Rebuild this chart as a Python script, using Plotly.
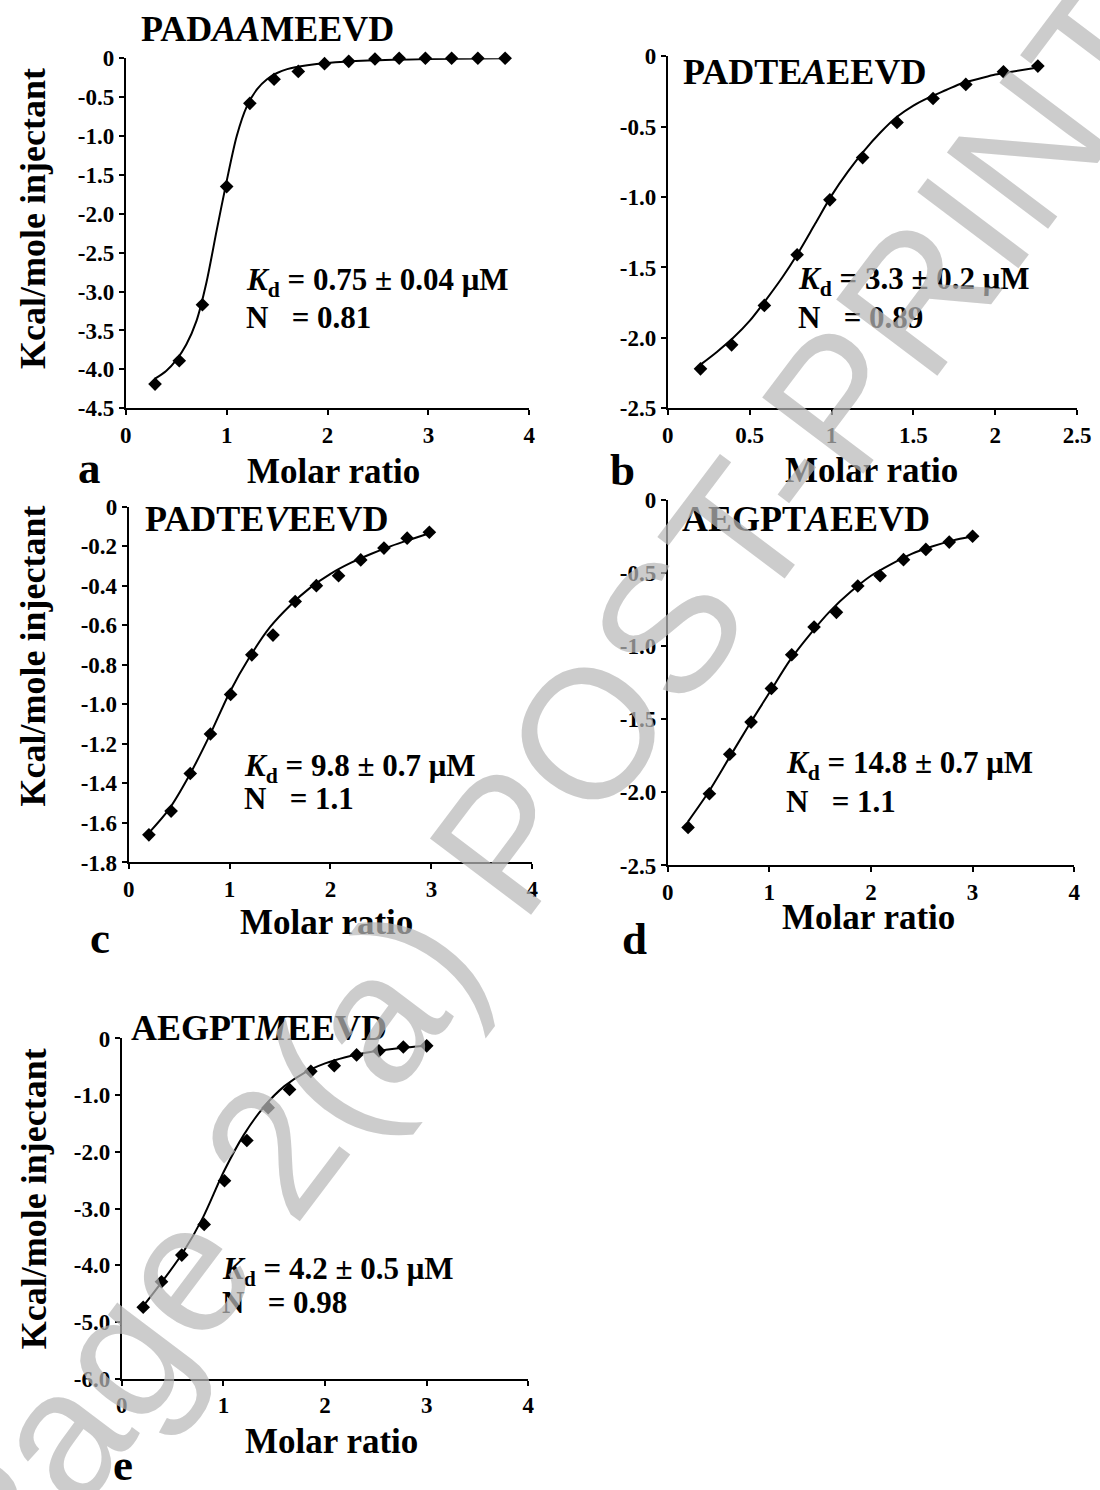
import plotly.graph_objects as go

W, H = 1100, 1490

# ---------------- data ----------------
# Panel a  PADAAMEEVD
a_x = [0.29, 0.53, 0.76, 1.0, 1.23, 1.47, 1.71, 1.97, 2.21, 2.47, 2.71, 2.97, 3.23, 3.49, 3.76]
a_y = [-4.19, -3.89, -3.17, -1.65, -0.58, -0.27, -0.17, -0.07, -0.04, -0.01, 0.0, 0.0, 0.0, 0.0, 0.0]
a_fit_x = [0.29, 0.4, 0.5, 0.6, 0.7, 0.8, 0.9, 1.0, 1.1, 1.2, 1.3, 1.4, 1.5, 1.6, 1.8, 2.0, 2.4, 3.0, 3.76]
a_fit_y = [-4.12, -4.02, -3.88, -3.68, -3.38, -2.88, -2.22, -1.58, -1.0, -0.62, -0.4, -0.27, -0.19, -0.14, -0.09, -0.06, -0.03, -0.01, 0.0]

# Panel b  PADTEAEEVD
b_x = [0.2, 0.39, 0.59, 0.79, 0.99, 1.19, 1.4, 1.62, 1.82, 2.05, 2.26]
b_y = [-2.22, -2.05, -1.77, -1.41, -1.02, -0.72, -0.47, -0.3, -0.2, -0.11, -0.07]
b_fit_x = [0.2, 0.3, 0.4, 0.5, 0.6, 0.7, 0.8, 0.9, 1.0, 1.1, 1.2, 1.3, 1.4, 1.5, 1.6, 1.7, 1.8, 1.9, 2.0, 2.1, 2.26]
b_fit_y = [-2.19, -2.1, -2.0, -1.88, -1.73, -1.57, -1.39, -1.19, -0.99, -0.82, -0.67, -0.54, -0.43, -0.35, -0.29, -0.24, -0.19, -0.16, -0.13, -0.11, -0.08]

# Panel c  PADTEVEEVD
c_x = [0.2, 0.42, 0.61, 0.81, 1.01, 1.22, 1.43, 1.65, 1.86, 2.08, 2.3, 2.53, 2.76, 2.98]
c_y = [-1.66, -1.54, -1.35, -1.15, -0.95, -0.75, -0.65, -0.48, -0.4, -0.35, -0.27, -0.21, -0.16, -0.13]
c_fit_x = [0.2, 0.4, 0.6, 0.8, 1.0, 1.2, 1.4, 1.6, 1.8, 2.0, 2.2, 2.4, 2.6, 2.8, 2.98]
c_fit_y = [-1.65, -1.53, -1.36, -1.16, -0.94, -0.76, -0.61, -0.5, -0.41, -0.34, -0.285, -0.24, -0.2, -0.165, -0.135]

# Panel d  AEGPTAEEVD
d_x = [0.2, 0.41, 0.61, 0.82, 1.02, 1.22, 1.44, 1.66, 1.87, 2.09, 2.32, 2.54, 2.77, 3.0]
d_y = [-2.24, -2.01, -1.74, -1.52, -1.29, -1.06, -0.87, -0.77, -0.59, -0.52, -0.41, -0.34, -0.29, -0.25]
d_fit_x = [0.2, 0.4, 0.6, 0.8, 1.0, 1.2, 1.4, 1.6, 1.8, 2.0, 2.2, 2.4, 2.6, 2.8, 3.0]
d_fit_y = [-2.2, -2.0, -1.77, -1.54, -1.32, -1.1, -0.92, -0.76, -0.63, -0.52, -0.44, -0.37, -0.32, -0.28, -0.25]

# Panel e  AEGPTMEEVD
e_x = [0.21, 0.39, 0.59, 0.81, 1.01, 1.23, 1.44, 1.65, 1.86, 2.09, 2.31, 2.53, 2.77, 3.0]
e_y = [-4.74, -4.29, -3.82, -3.28, -2.51, -1.8, -1.22, -0.9, -0.58, -0.48, -0.29, -0.22, -0.15, -0.13]
e_fit_x = [0.21, 0.4, 0.6, 0.8, 1.0, 1.2, 1.4, 1.6, 1.8, 2.0, 2.2, 2.4, 2.6, 2.8, 3.0]
e_fit_y = [-4.72, -4.28, -3.78, -3.15, -2.36, -1.7, -1.2, -0.84, -0.6, -0.44, -0.33, -0.25, -0.2, -0.16, -0.13]

# tick values / labels
x_ticks_4 = [0, 1, 2, 3, 4]
x_text_4 = ["0", "1", "2", "3", "4"]
x_ticks_b = [0, 0.5, 1, 1.5, 2, 2.5]
x_text_b = ["0", "0.5", "1", "1.5", "2", "2.5"]
a_yticks = [0, -0.5, -1.0, -1.5, -2.0, -2.5, -3.0, -3.5, -4.0, -4.5]
a_ytext = ["0", "-0.5", "-1.0", "-1.5", "-2.0", "-2.5", "-3.0", "-3.5", "-4.0", "-4.5"]
b_yticks = [0, -0.5, -1.0, -1.5, -2.0, -2.5]
b_ytext = ["0", "-0.5", "-1.0", "-1.5", "-2.0", "-2.5"]
c_yticks = [0, -0.2, -0.4, -0.6, -0.8, -1.0, -1.2, -1.4, -1.6, -1.8]
c_ytext = ["0", "-0.2", "-0.4", "-0.6", "-0.8", "-1.0", "-1.2", "-1.4", "-1.6", "-1.8"]
e_yticks = [0, -1.0, -2.0, -3.0, -4.0, -5.0, -6.0]
e_ytext = ["0", "-1.0", "-2.0", "-3.0", "-4.0", "-5.0", "-6.0"]

titles = ["PAD<i>AA</i>MEEVD", "PADTE<i>A</i>EEVD", "PADTE<i>V</i>EEVD", "AEGPT<i>A</i>EEVD", "AEGPT<i>M</i>EEVD"]
kd_texts = ["0.75 ± 0.04 μM", "3.3 ± 0.2 μM", "9.8 ± 0.7 μM", "14.8 ± 0.7 μM", "4.2 ± 0.5 μM"]
n_texts = ["0.81", "0.89", "1.1", "1.1", "0.98"]
letters = ["a", "b", "c", "d", "e"]

# ---------------- layout helpers ----------------
SERIF = "Liberation Serif"

def px(x):
    return x / W

def py(y):
    return 1 - y / H

# panel boxes in pixels: left, right, top, bottom
boxes = [
    (122, 533, 47, 403),
    (674, 1091, 45, 403),
    (125, 536, 503, 865),
    (674, 1088, 496, 868),
    (118, 532, 1044, 1390),
]
xranges = [[0, 4], [0, 2.5], [0, 4], [0, 4], [0, 4]]
yranges = [[-4.5, 0], [-2.5, 0], [-1.8, 0], [-2.5, 0], [-6.0, 0]]
xtv = [x_ticks_4, x_ticks_b, x_ticks_4, x_ticks_4, x_ticks_4]
xtt = [x_text_4, x_text_b, x_text_4, x_text_4, x_text_4]
ytv = [a_yticks, b_yticks, c_yticks, b_yticks, e_yticks]
ytt = [a_ytext, b_ytext, c_ytext, b_ytext, e_ytext]
data = [
    (a_x, a_y, a_fit_x, a_fit_y),
    (b_x, b_y, b_fit_x, b_fit_y),
    (c_x, c_y, c_fit_x, c_fit_y),
    (d_x, d_y, d_fit_x, d_fit_y),
    (e_x, e_y, e_fit_x, e_fit_y),
]

fig = go.Figure()
layout = dict(
    width=W, height=H, autosize=False,
    margin=dict(l=0, r=0, t=0, b=0),
    paper_bgcolor="white", plot_bgcolor="white",
    showlegend=False,
)

for i, (box, (xs, ys, fx, fy)) in enumerate(zip(boxes, data)):
    n = i + 1
    xa = "x" if n == 1 else f"x{n}"
    ya = "y" if n == 1 else f"y{n}"
    fig.add_trace(go.Scatter(x=fx, y=fy, mode="lines", line=dict(color="black", width=2, shape="spline", smoothing=0.8),
                             xaxis=xa, yaxis=ya, cliponaxis=False, hoverinfo="skip"))
    fig.add_trace(go.Scatter(x=xs, y=ys, mode="markers", marker=dict(symbol="diamond", size=10.5, color="black"),
                             xaxis=xa, yaxis=ya, cliponaxis=False))
    l, r, t, b = box
    common = dict(showline=True, linecolor="black", linewidth=2, ticks="outside", ticklen=5, tickwidth=2,
                  tickcolor="black", showgrid=False, zeroline=False,
                  tickfont=dict(family=SERIF, size=23, color="black", weight="bold"), fixedrange=True)
    layout["xaxis" if n == 1 else f"xaxis{n}"] = dict(
        domain=[px(l), px(r)], range=xranges[i], anchor=ya, tickmode="array",
        tickvals=xtv[i], ticktext=xtt[i], **common)
    layout["yaxis" if n == 1 else f"yaxis{n}"] = dict(
        domain=[py(b), py(t)], range=yranges[i], anchor=xa, tickmode="array",
        tickvals=ytv[i], ticktext=ytt[i], **common)

fig.update_layout(**layout)

ann = []

def txt(x, y, s, size, xanchor="center", yanchor="middle", angle=0):
    ann.append(dict(x=px(x), y=py(y), xref="paper", yref="paper", text=s, showarrow=False,
                    xanchor=xanchor, yanchor=yanchor, textangle=angle,
                    font=dict(family=SERIF, size=size, color="black", weight="bold")))

# panel titles (left edge, centre y)
title_pos = [(135, 17), (688, 61), (140, 516), (686, 516), (125, 1033)]
for s, (x, y) in zip(titles, title_pos):
    txt(x, y, s, 36, xanchor="left")

# Kd / N annotations
kd_pos = [(242, 275, 311), (805, 274, 311), (240, 769, 800), (792, 766, 803), (218, 1280, 1313)]
NB = "\u00a0"
for k, nval, (x, y1, y2) in zip(kd_texts, n_texts, kd_pos):
    txt(x, y1, "<i>K</i><sub>d</sub> = " + k, 31, xanchor="left")
    txt(x, y2, "N" + NB * 3 + "= " + nval, 31, xanchor="left")

# y-axis titles
for y in [210, 655, 1207]:
    txt(28, y, "Kcal/mole injectant", 36, angle=-90)

# x-axis titles
for x, y in [(334, 467), (882, 466), (326, 926), (878, 921), (332, 1454)]:
    txt(x, y, "Molar ratio", 35)

# panel letters
for s, (x, y) in zip(letters, [(85, 464), (628, 466), (96, 942), (640, 943), (119, 1478)]):
    txt(x, y, s, 45)

# watermark
ann.append(dict(x=px(548), y=py(792), xref="paper", yref="paper", text="Page 2(a) POST-PRINT",
                showarrow=False, xanchor="center", yanchor="middle", textangle=-53,
                font=dict(family="Liberation Sans", size=184, color="rgba(185,185,185,0.72)")))

fig.update_layout(annotations=ann)
fig.write_html("out.html")
